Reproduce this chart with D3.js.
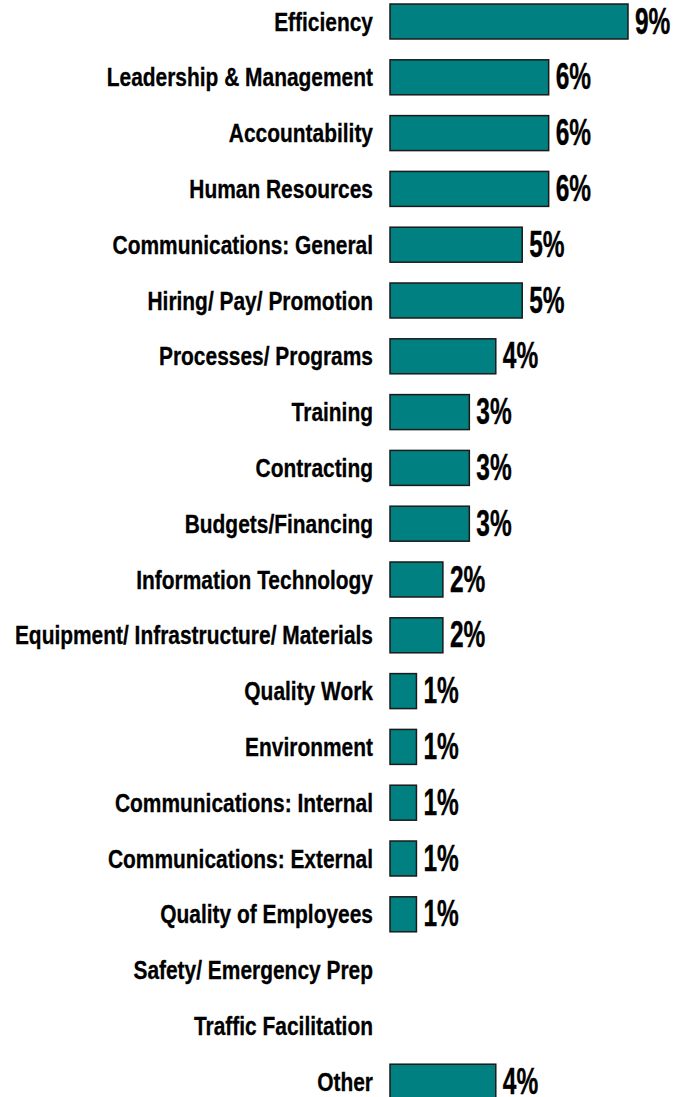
<!DOCTYPE html>
<html><head><meta charset="utf-8">
<script src="https://cdn.jsdelivr.net/npm/d3@7"></script>
<style>body{margin:0;background:#fff}</style></head>
<body><div id="chart"></div>
<script>
const categories = ["Efficiency","Leadership & Management","Accountability","Human Resources","Communications: General","Hiring/ Pay/ Promotion","Processes/ Programs","Training","Contracting","Budgets/Financing","Information Technology","Equipment/ Infrastructure/ Materials","Quality Work","Environment","Communications: Internal","Communications: External","Quality of Employees","Safety/ Emergency Prep","Traffic Facilitation","Other"];
const values = [9,6,6,6,5,5,4,3,3,3,2,2,1,1,1,1,1,null,null,4];
const valueLabels = values.map(v => v == null ? "" : v + "%");

const W = 677, H = 1097;
const svg = d3.select("#chart").append("svg").attr("width", W).attr("height", H);
const x = d3.scaleLinear().domain([0, 9]).range([390, 628]);
const y = d3.scaleBand().domain(categories).range([-6.4, 1109.6]).paddingInner(0.373).paddingOuter(0.1865);

const data = categories.map((c, i) => ({c, v: values[i], l: valueLabels[i]}));
const FONT = "'Liberation Sans', Arial, sans-serif";

svg.selectAll("text.cat").data(data).join("text").attr("class","cat")
  .attr("transform", d => `translate(373,${y(d.c) + y.bandwidth()/2 + 9}) scale(0.805,1)`)
  .attr("text-anchor","end")
  .attr("font-family", FONT).attr("font-weight","bold")
  .attr("font-size", 26).attr("fill","#000").attr("stroke","#000").attr("stroke-width",0.3)
  .text(d => d.c);

svg.selectAll("rect.bar").data(data.filter(d => d.v != null)).join("rect").attr("class","bar")
  .attr("x", x(0)).attr("y", d => y(d.c)).attr("width", d => x(d.v) - x(0)).attr("height", y.bandwidth())
  .attr("fill","#008080").attr("stroke","#1a1a1a").attr("stroke-width",1.5);

svg.selectAll("text.val").data(data.filter(d => d.v != null)).join("text").attr("class","val")
  .attr("transform", d => `translate(${x(d.v) + 7},${y(d.c) + y.bandwidth()/2 + 12}) scale(0.68,1)`)
  .attr("font-family", FONT).attr("font-weight","bold")
  .attr("font-size", 36).attr("fill","#000").attr("stroke","#000").attr("stroke-width",0.4)
  .text(d => d.l);
</script></body></html>
